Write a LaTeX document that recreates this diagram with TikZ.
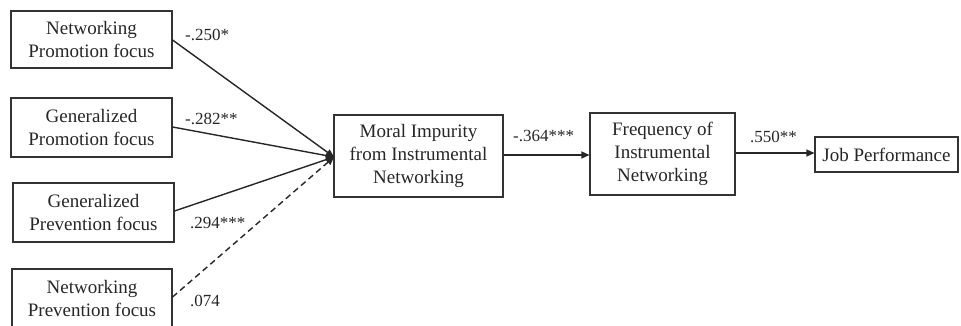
\documentclass[tikz,border=0pt]{standalone}
\usepackage{fontspec}
\setmainfont{Liberation Serif}
\usetikzlibrary{arrows.meta}
\begin{document}
\begin{tikzpicture}[x=1pt,y=-1pt,
  every node/.style={font=\fontsize{19}{23}\selectfont},
  box/.style={draw=black!80,line width=1.1pt,align=center,inner sep=0pt,text=black!85},
  lbl/.style={font=\fontsize{17}{20}\selectfont,inner sep=0pt,anchor=west,text=black!85},
  conn/.style={draw=black!85,line width=1.4pt,-{Triangle[length=8pt,width=7pt]}},
  dconn/.style={conn,dash pattern=on 6pt off 4pt}]
\useasboundingbox (0,0) rectangle (961,326);
\clip (0,0) rectangle (961,326);
\node[box,minimum width=161pt,minimum height=57pt] (np) at (91.5,39.5) {Networking\\Promotion focus};
\node[box,minimum width=161pt,minimum height=59pt] (gp) at (91.5,127.5) {Generalized\\Promotion focus};
\node[box,minimum width=161pt,minimum height=59pt] (gv) at (93.5,212.5) {Generalized\\Prevention focus};
\node[box,minimum width=160pt,minimum height=59pt] (nv) at (92,298.5) {Networking\\Prevention focus};
\node[box,minimum width=169pt,minimum height=82pt] (mi) at (418.5,156) {Moral Impurity\\from Instrumental\\Networking};
\node[box,minimum width=145pt,minimum height=82pt] (fi) at (662.5,154) {Frequency of\\Instrumental\\Networking};
\node[box,minimum width=143pt,minimum height=35pt] (jp) at (886.5,154.5) {Job Performance};
\coordinate (t) at (334,157);
\draw[conn] (np.east |- 0,40) -- (t);
\draw[conn] (gp.east |- 0,127) -- (t);
\draw[conn] (gv.east |- 0,211) -- (t);
\draw[dconn] (nv.east |- 0,297) -- (t);
\draw[conn] (mi.east |- 0,155) -- (fi.west |- 0,155);
\draw[conn] (fi.east |- 0,153) -- (jp.west |- 0,153);
\node[lbl] (l1) at (185,35) {-.250*};
\node[lbl] (l2) at (185,119) {-.282**};
\node[lbl] (l3) at (190,223) {.294***};
\node[lbl] (l4) at (190,301) {.074};
\node[lbl] (l5) at (513,136) {-.364***};
\node[lbl] (l6) at (750,137) {.550**};
\end{tikzpicture}
\end{document}
